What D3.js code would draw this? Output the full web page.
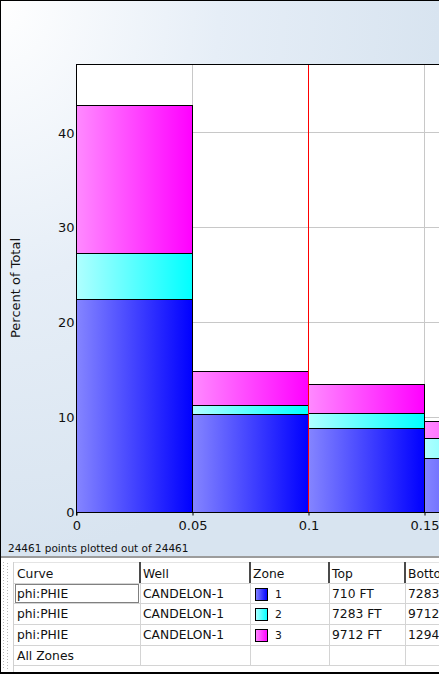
<!DOCTYPE html>
<html>
<head>
<meta charset="utf-8">
<script src="https://cdn.jsdelivr.net/npm/d3@7"></script>
<style>
  body { margin: 0; background: #fff; }
  svg { display: block; font-family: Tahoma, "DejaVu Sans", sans-serif; }
</style>
</head>
<body>
<svg id="chart" width="439" height="674"></svg>
<script>
// histogram bins (left edge of each 0.05 bin)
var binStarts = [0, 0.05, 0.1, 0.15];
var binWidth = 0.05;
// percent of total for each zone, stacked
var zone1 = [22.4, 10.3, 8.9, 5.7];
var zone2 = [4.9, 1.0, 1.5, 2.1];
var zone3 = [15.6, 3.6, 3.1, 1.8];
var zoneNames = ['1', '2', '3'];
var xTicks = [0, 0.05, 0.1, 0.15, 0.2];
var yTicks = [0, 10, 20, 30, 40];
var cutoff = 0.1;

// table contents
var tableHeader = ['Curve', 'Well', 'Zone', 'Top', 'Bottom'];
var tableCurves = ['phi:PHIE', 'phi:PHIE', 'phi:PHIE', 'All Zones'];
var tableWells = ['CANDELON-1', 'CANDELON-1', 'CANDELON-1', ''];
var tableTops = ['710 FT', '7283 FT', '9712 FT', ''];
var tableBottoms = ['7283 FT', '9712 FT', '12940 FT', ''];

var svg = d3.select('#chart');
var defs = svg.append('defs');

// background gradient
var bg = defs.append('radialGradient').attr('id', 'bg')
    .attr('cx', '0').attr('cy', '0').attr('r', '1').attr('fx', '0').attr('fy', '0')
    .attr('gradientUnits', 'objectBoundingBox');
bg.append('stop').attr('offset', '0').attr('stop-color', '#ffffff');
bg.append('stop').attr('offset', '0.5').attr('stop-color', '#e6eef7');
bg.append('stop').attr('offset', '1').attr('stop-color', '#d8e4f0');

svg.append('rect').attr('x', 0).attr('y', 0).attr('width', 439).attr('height', 557)
    .attr('fill', 'url(#bg)');

// zone colours as horizontal gradients
var zoneColors = [['#8585ff', '#0000ff'], ['#b0ffff', '#00ffff'], ['#ff8aff', '#ff00ff']];
zoneColors.forEach(function(c, i) {
    var g = defs.append('linearGradient').attr('id', 'zg' + i)
        .attr('x1', '0').attr('x2', '1').attr('y1', '0').attr('y2', '0');
    g.append('stop').attr('offset', '0').attr('stop-color', c[0]);
    g.append('stop').attr('offset', '1').attr('stop-color', c[1]);
});

var plotLeft = 76, plotTop = 64, plotBottom = 512, plotRight = 540;

var x = d3.scaleLinear().domain([0, 0.2]).range([plotLeft, plotRight]);
var y = d3.scaleLinear().domain([0, 47.2]).range([plotBottom, plotTop]);

defs.append('clipPath').attr('id', 'plotClip')
    .append('rect').attr('x', plotLeft).attr('y', plotTop - 1)
    .attr('width', 439 - plotLeft).attr('height', plotBottom - plotTop + 2);

var plot = svg.append('g').attr('clip-path', 'url(#plotClip)');

plot.append('rect').attr('x', plotLeft).attr('y', plotTop)
    .attr('width', plotRight - plotLeft).attr('height', plotBottom - plotTop)
    .attr('fill', '#fff');

// grid lines
plot.selectAll('.hgrid').data(yTicks.slice(1)).enter().append('line')
    .attr('x1', plotLeft).attr('x2', plotRight)
    .attr('y1', function(d) { return Math.round(y(d)) + 0.5; })
    .attr('y2', function(d) { return Math.round(y(d)) + 0.5; })
    .attr('stroke', '#c8c8c8');
plot.selectAll('.vgrid').data(xTicks.slice(1)).enter().append('line')
    .attr('y1', plotTop).attr('y2', plotBottom)
    .attr('x1', function(d) { return Math.round(x(d)) + 0.5; })
    .attr('x2', function(d) { return Math.round(x(d)) + 0.5; })
    .attr('stroke', '#c8c8c8');

// stacked bars
var series = [zone1, zone2, zone3];
var stacks = binStarts.map(function(b, i) {
    var base = 0;
    return series.map(function(s, z) {
        var seg = { x0: b, y0: base, y1: base + s[i], zone: z };
        base += s[i];
        return seg;
    });
});
var segs = [].concat.apply([], stacks);

plot.selectAll('.bar').data(segs).enter().append('rect')
    .attr('class', 'bar')
    .attr('x', function(d) { return Math.round(x(d.x0)) + 0.5; })
    .attr('width', function(d) { return Math.round(x(d.x0 + binWidth)) - Math.round(x(d.x0)); })
    .attr('y', function(d) { return Math.round(y(d.y1)) + 0.5; })
    .attr('height', function(d) { return Math.round(y(d.y0)) - Math.round(y(d.y1)); })
    .attr('fill', function(d) { return 'url(#zg' + d.zone + ')'; })
    .attr('stroke', '#000').attr('stroke-width', 1);

// cutoff line
plot.append('line')
    .attr('x1', Math.round(x(cutoff)) + 0.5).attr('x2', Math.round(x(cutoff)) + 0.5)
    .attr('y1', plotTop).attr('y2', plotBottom)
    .attr('stroke', '#ff0000');

// frame top and axes
svg.append('line').attr('x1', plotLeft).attr('x2', 439)
    .attr('y1', plotTop + 0.5).attr('y2', plotTop + 0.5).attr('stroke', '#000');

var xAxis = d3.axisBottom(x).tickValues(xTicks).tickSize(3).tickSizeOuter(0)
    .tickFormat(function(d) { return d === 0 ? '0' : String(+d.toFixed(2)); });
var gX = svg.append('g').attr('transform', 'translate(0.5,' + (plotBottom + 0.5) + ')').call(xAxis)
    .attr('font-family', null).attr('font-size', 13);
gX.select('.domain').attr('d', 'M' + (plotLeft - 0.5) + ',0H' + 439);
gX.selectAll('text').attr('fill', '#111').attr('dy', '0.9em');

var yAxis = d3.axisLeft(y).tickValues(yTicks).tickSize(3).tickSizeOuter(0);
var gY = svg.append('g').attr('transform', 'translate(' + (plotLeft + 0.5) + ',0.5)').call(yAxis)
    .attr('font-family', null).attr('font-size', 13);
gY.select('.domain').attr('d', 'M0,' + plotTop + 'V' + (plotBottom + 3));
gY.selectAll('text').attr('fill', '#111').attr('x', -2);
gY.selectAll('.tick line').attr('stroke', 'none');

svg.append('text')
    .attr('transform', 'translate(20,288) rotate(-90)')
    .attr('text-anchor', 'middle')
    .attr('font-size', 13).attr('fill', '#111')
    .text('Percent of Total');

svg.append('text')
    .attr('x', 8).attr('y', 552)
    .attr('font-size', 10.5).attr('fill', '#111')
    .text('24461 points plotted out of 24461');

// ---- table panel ----
svg.append('rect').attr('x', 0).attr('y', 556).attr('width', 439).attr('height', 2).attr('fill', '#9c9c9c');
svg.append('rect').attr('x', 0).attr('y', 558).attr('width', 439).attr('height', 114).attr('fill', '#fff');

// grip column
var grip = svg.append('g');
for (var gy = 562; gy < 670; gy += 3) {
    grip.append('rect').attr('x', 3).attr('y', gy).attr('width', 1).attr('height', 1).attr('fill', '#b8b8b8');
    grip.append('rect').attr('x', 7).attr('y', gy + 1).attr('width', 1).attr('height', 1).attr('fill', '#b8b8b8');
}
svg.append('line').attr('x1', 13.5).attr('x2', 13.5).attr('y1', 562).attr('y2', 672).attr('stroke', '#d0d0d0');

var colX = [14, 140, 250, 329, 405, 520];
var rowY = [562, 583, 603, 624, 645, 665];

// row lines
svg.selectAll('.rowline').data(rowY).enter().append('line')
    .attr('x1', 14).attr('x2', 439)
    .attr('y1', function(d) { return d + 0.5; }).attr('y2', function(d) { return d + 0.5; })
    .attr('stroke', function(d, i) { return i === 0 ? '#e4e4e4' : '#d4d4d4'; });
// column lines in body
svg.selectAll('.colline').data(colX.slice(1, 5)).enter().append('line')
    .attr('x1', function(d) { return d + 0.5; }).attr('x2', function(d) { return d + 0.5; })
    .attr('y1', 583).attr('y2', 665)
    .attr('stroke', '#d4d4d4');
// header separators
svg.selectAll('.hsep').data(colX.slice(1, 5)).enter().append('rect')
    .attr('x', function(d) { return d - 1; }).attr('y', 562).attr('width', 2).attr('height', 21)
    .attr('fill', '#4a4a4a');

var tfont = 12.3;
svg.selectAll('.hdr').data(tableHeader).enter().append('text')
    .attr('x', function(d, i) { return colX[i] + 3; }).attr('y', 578)
    .attr('font-size', tfont).attr('fill', '#111')
    .text(function(d) { return d; });

function rowText(arr, col) {
    svg.selectAll('.c' + col).data(arr).enter().append('text')
        .attr('x', colX[col] + 3)
        .attr('y', function(d, i) { return rowY[i + 1] + 15; })
        .attr('font-size', tfont).attr('fill', '#111')
        .text(function(d) { return d; });
}
rowText(tableCurves, 0);
rowText(tableWells, 1);
rowText(tableTops, 3);
rowText(tableBottoms, 4);

// zone swatches
zoneNames.forEach(function(z, i) {
    svg.append('rect').attr('x', 255.5).attr('y', rowY[i + 1] + 5.5).attr('width', 12).attr('height', 12)
        .attr('fill', 'url(#zg' + i + ')').attr('stroke', '#000');
    svg.append('text').attr('x', 275).attr('y', rowY[i + 1] + 15)
        .attr('font-size', tfont - 1.5).attr('fill', '#111').text(z);
});

// focus rectangle on first cell
svg.append('rect').attr('x', 15.5).attr('y', 584.5).attr('width', 123).attr('height', 18)
    .attr('fill', 'none').attr('stroke', '#000').attr('stroke-dasharray', '1,1');

// window border
svg.append('line').attr('x1', 0).attr('x2', 439).attr('y1', 0.5).attr('y2', 0.5).attr('stroke', '#000');
svg.append('line').attr('x1', 0.5).attr('x2', 0.5).attr('y1', 0).attr('y2', 674).attr('stroke', '#000');
svg.append('rect').attr('x', 0).attr('y', 672).attr('width', 439).attr('height', 2).attr('fill', '#000');
</script>
</body>
</html>
